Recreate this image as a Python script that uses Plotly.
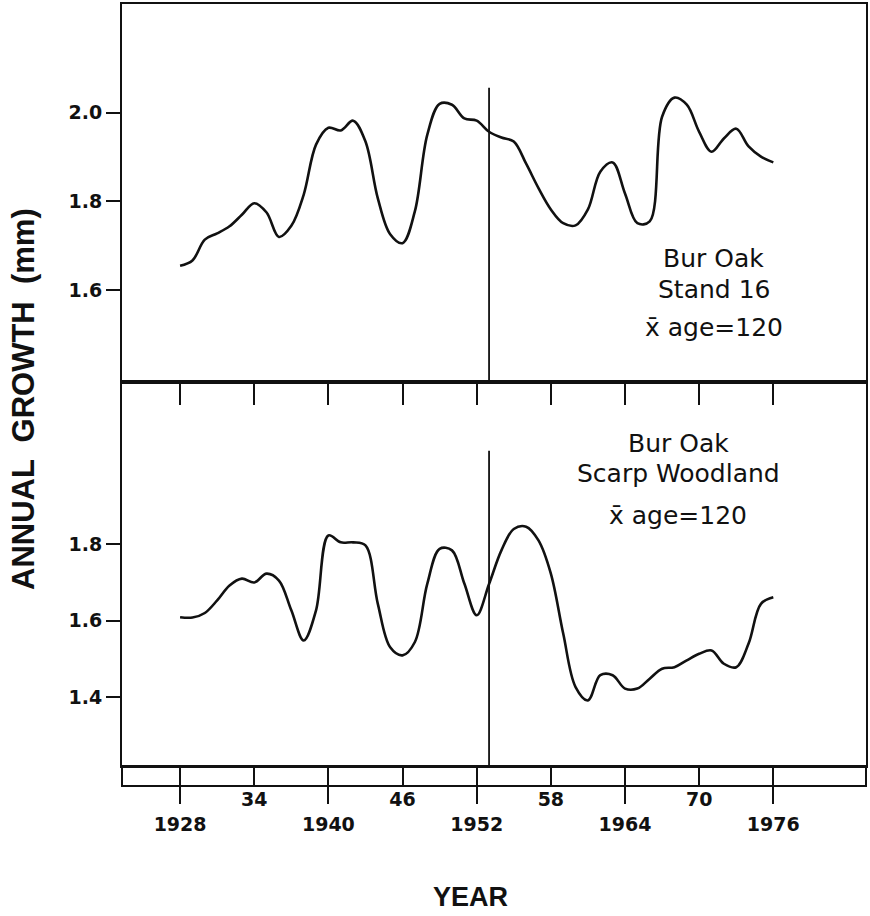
import plotly.graph_objects as go

years = list(range(1928, 1977))

stand16 = [1.655, 1.667, 1.714, 1.728, 1.744, 1.770, 1.796, 1.775, 1.720, 1.745,
           1.815, 1.928, 1.966, 1.960, 1.982, 1.935, 1.807, 1.726, 1.706, 1.778,
           1.950, 2.020, 2.018, 1.987, 1.982, 1.957, 1.944, 1.935, 1.885, 1.830,
           1.782, 1.751, 1.746, 1.782, 1.867, 1.888, 1.818, 1.751, 1.755, 1.991,
           2.034, 2.018, 1.957, 1.912, 1.942, 1.964, 1.924, 1.901, 1.888]

scarp = [1.609, 1.608, 1.620, 1.653, 1.692, 1.710, 1.700, 1.723, 1.705, 1.627,
         1.548, 1.627, 1.823, 1.805, 1.805, 1.797, 1.644, 1.530, 1.509, 1.544,
         1.696, 1.788, 1.784, 1.697, 1.614, 1.696, 1.784, 1.840, 1.846, 1.810,
         1.723, 1.566, 1.426, 1.391, 1.457, 1.457, 1.422, 1.422, 1.448, 1.474,
         1.478, 1.496, 1.513, 1.522, 1.487, 1.478, 1.540, 1.644, 1.661]

x_tick_vals = [1928, 1934, 1940, 1946, 1952, 1958, 1964, 1970, 1976]
x_tick_text = ["<br>1928", "34", "<br>1940", "46", "<br>1952", "58", "<br>1964", "70", "<br>1976"]
x_major_vals = [1928, 1940, 1952, 1964, 1976]

top_y_vals = [1.6, 1.8, 2.0]
top_y_text = ["1.6", "1.8", "2.0"]
bot_y_vals = [1.4, 1.6, 1.8]
bot_y_text = ["1.4", "1.6", "1.8"]

divider_year = 1953

top_label = ["Bur Oak", "Stand 16", "x\u0304 age=120"]
bot_label = ["Bur Oak", "Scarp Woodland", "x\u0304 age=120"]

xr = [1923.3, 1983.5]
top_range = [1.393, 2.245]
bot_range = [1.219, 2.225]

ink = "#111111"
tick_font = dict(family="DejaVu Sans", size=19, color=ink, weight="bold")
lab_font = dict(family="DejaVu Sans", size=25, color=ink)

fig = go.Figure()
fig.add_trace(go.Scatter(x=years, y=stand16, mode="lines",
                         line=dict(color=ink, width=2.6, shape="spline", smoothing=1.0),
                         xaxis="x", yaxis="y", showlegend=False, hoverinfo="skip"))
fig.add_trace(go.Scatter(x=years, y=scarp, mode="lines",
                         line=dict(color=ink, width=2.6, shape="spline", smoothing=1.0),
                         xaxis="x2", yaxis="y2", showlegend=False, hoverinfo="skip"))
fig.add_trace(go.Scatter(x=[], y=[], xaxis="x3", yaxis="y2", showlegend=False))
fig.add_trace(go.Scatter(x=[], y=[], xaxis="x4", yaxis="y2", showlegend=False))

top_dom = [0.5166, 1.0]
bot_dom = [0.0255, 0.5166]

common_x = dict(range=xr, showgrid=False, zeroline=False, linecolor=ink, linewidth=2)

fig.update_layout(
    width=870, height=916,
    margin=dict(l=122, r=4, t=2, b=130),
    paper_bgcolor="white", plot_bgcolor="white",
    xaxis=dict(**common_x, anchor="y", showline=True, mirror=True,
               ticks="outside", ticklen=21, tickwidth=2, tickcolor=ink,
               tickvals=x_tick_vals, showticklabels=False),
    yaxis=dict(domain=top_dom, range=top_range, showgrid=False, zeroline=False,
               showline=True, mirror=True, linecolor=ink, linewidth=2,
               ticks="outside", ticklen=14, tickwidth=2, tickcolor=ink,
               tickvals=top_y_vals, ticktext=top_y_text, tickfont=tick_font),
    xaxis2=dict(**common_x, anchor="y2", showline=True, mirror=True,
                ticks="", showticklabels=True, tickvals=x_tick_vals,
                ticktext=x_tick_text, tickfont=tick_font, ticklabelstandoff=15),
    yaxis2=dict(domain=bot_dom, range=bot_range, showgrid=False, zeroline=False,
                showline=True, mirror=True, linecolor=ink, linewidth=2,
                ticks="outside", ticklen=14, tickwidth=2, tickcolor=ink,
                tickvals=bot_y_vals, ticktext=bot_y_text, tickfont=tick_font),
    xaxis3=dict(**common_x, overlaying="x2", anchor="free", position=0,
                showline=True, ticks="inside", ticklen=20, tickwidth=2, tickcolor=ink,
                tickvals=x_tick_vals, showticklabels=False),
    xaxis4=dict(range=xr, overlaying="x2", anchor="free", position=0,
                showline=False, showgrid=False, zeroline=False,
                ticks="outside", ticklen=17, tickwidth=2, tickcolor=ink,
                tickvals=x_major_vals, showticklabels=False),
)

# strip frame below the lower panel
fig.add_shape(type="rect", xref="paper", yref="paper", x0=0, x1=1, y0=0, y1=bot_dom[0],
              line=dict(color=ink, width=2), fillcolor="rgba(0,0,0,0)")

# divider lines
fig.add_shape(type="line", xref="x", yref="y", x0=divider_year, x1=divider_year,
              y0=top_range[0], y1=2.056, line=dict(color=ink, width=1.8))
fig.add_shape(type="line", xref="x2", yref="y2", x0=divider_year, x1=divider_year,
              y0=bot_range[0], y1=2.045, line=dict(color=ink, width=1.8))

for txt, yv in zip(top_label, [1.672, 1.602, 1.515]):
    fig.add_annotation(text=txt, x=1971.2, y=yv, xref="x", yref="y", showarrow=False,
                       font=lab_font, xanchor="center", yanchor="middle")
for txt, yv in zip(bot_label, [2.065, 1.985, 1.875]):
    fig.add_annotation(text=txt, x=1968.3, y=yv, xref="x2", yref="y2", showarrow=False,
                       font=lab_font, xanchor="center", yanchor="middle")

fig.add_annotation(text="<b>ANNUAL  GROWTH  (mm)</b>", xref="paper", yref="paper",
                   x=(24 - 122) / 744, y=1 - (398 - 2) / 784, textangle=-90, showarrow=False,
                   font=dict(family="Liberation Sans", size=31, color=ink),
                   xanchor="center", yanchor="middle")
fig.add_annotation(text="<b>YEAR</b>", xref="paper", yref="paper",
                   x=(470 - 122) / 744, y=1 - (897 - 2) / 784, showarrow=False,
                   font=dict(family="Liberation Sans", size=27, color=ink),
                   xanchor="center", yanchor="middle")

fig.write_html("out.html", config={"displayModeBar": False},
               post_script="document.body.style.margin='0';document.body.style.overflow='hidden';")
